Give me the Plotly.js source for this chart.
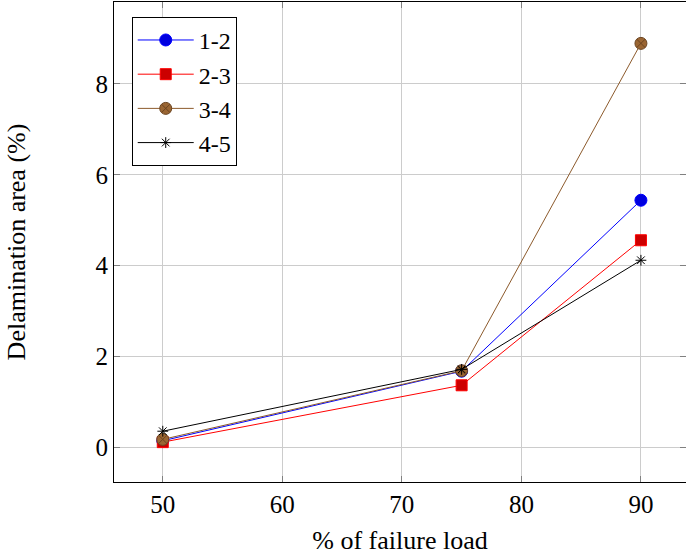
<!DOCTYPE html>
<html>
<head>
<meta charset="utf-8">
<script src="https://cdn.plot.ly/plotly-3.0.1.min.js"></script>
<style>html,body{margin:0;padding:0;background:#fff;}#chart{width:686px;height:555px;}</style>
</head>
<body>
<div id="chart"></div>
<script>
const loads = [50, 75, 90];
const s12 = [0.15, 1.68, 5.44];
const s23 = [0.12, 1.37, 4.56];
const s34 = [0.18, 1.69, 8.89];
const s45 = [0.36, 1.72, 4.12];
const seriesNames = ['1-2', '2-3', '3-4', '4-5'];
const xTicks = [50, 60, 70, 80, 90];
const yTicks = [0, 2, 4, 6, 8];

const font = 'Liberation Serif';
const traces = [
  {x: loads, y: s12, name: seriesNames[0], mode: 'lines+markers',
   line: {color: '#0000ff', width: 1},
   marker: {symbol: 'circle', size: 12, color: '#0000e0', line: {color: '#0000ff', width: 1}}},
  {x: loads, y: s23, name: seriesNames[1], mode: 'lines+markers',
   line: {color: '#ff0000', width: 1},
   marker: {symbol: 'square', size: 11, color: '#cc0000', line: {color: '#ff0000', width: 1}}},
  {x: loads, y: s34, name: seriesNames[2], mode: 'lines+markers',
   line: {color: '#8c5a2c', width: 1},
   marker: {symbol: 'circle-x', size: 12, color: '#9a6532', line: {color: '#6b4420', width: 1}}},
  {x: loads, y: s45, name: seriesNames[3], mode: 'lines+markers',
   line: {color: '#000000', width: 1},
   marker: {symbol: 'asterisk-open', size: 9, color: '#000000', line: {color: '#000000', width: 1}}}
];

const layout = {
  width: 686, height: 555,
  margin: {l: 114, r: 0, t: 2, b: 73},
  paper_bgcolor: '#fff', plot_bgcolor: '#fff',
  font: {family: font, size: 25, color: '#000'},
  showlegend: true,
  legend: {x: 0.031, y: 0.969, xanchor: 'left', yanchor: 'top',
    bgcolor: '#fff', bordercolor: '#000', borderwidth: 1,
    font: {family: font, size: 24, color: '#000'}, tracegroupgap: 0, itemwidth: 56},
  xaxis: {
    range: [45.92, 93.77], tickvals: xTicks, ticktext: xTicks.map(String),
    showgrid: true, gridcolor: '#cccccc', gridwidth: 1, zeroline: false,
    showline: true, linecolor: '#000', linewidth: 1, mirror: 'allticks',
    ticks: 'inside', ticklen: 6, tickcolor: '#808080',
    tickfont: {family: font, size: 25},
    automargin: false,
    title: {text: '% of failure load', font: {family: font, size: 26}, standoff: 16}
  },
  yaxis: {
    range: [-0.757, 9.80], tickvals: yTicks, ticktext: yTicks.map(String),
    showgrid: true, gridcolor: '#cccccc', gridwidth: 1, zeroline: false,
    showline: true, linecolor: '#000', linewidth: 1, mirror: 'allticks',
    ticks: 'inside', ticklen: 6, tickcolor: '#808080',
    tickfont: {family: font, size: 25},
    automargin: false,
    title: {text: 'Delamination area (%)', font: {family: font, size: 26}, standoff: 62}
  }
};
Plotly.newPlot('chart', traces, layout, {displayModeBar: false, staticPlot: true});
</script>
</body>
</html>
